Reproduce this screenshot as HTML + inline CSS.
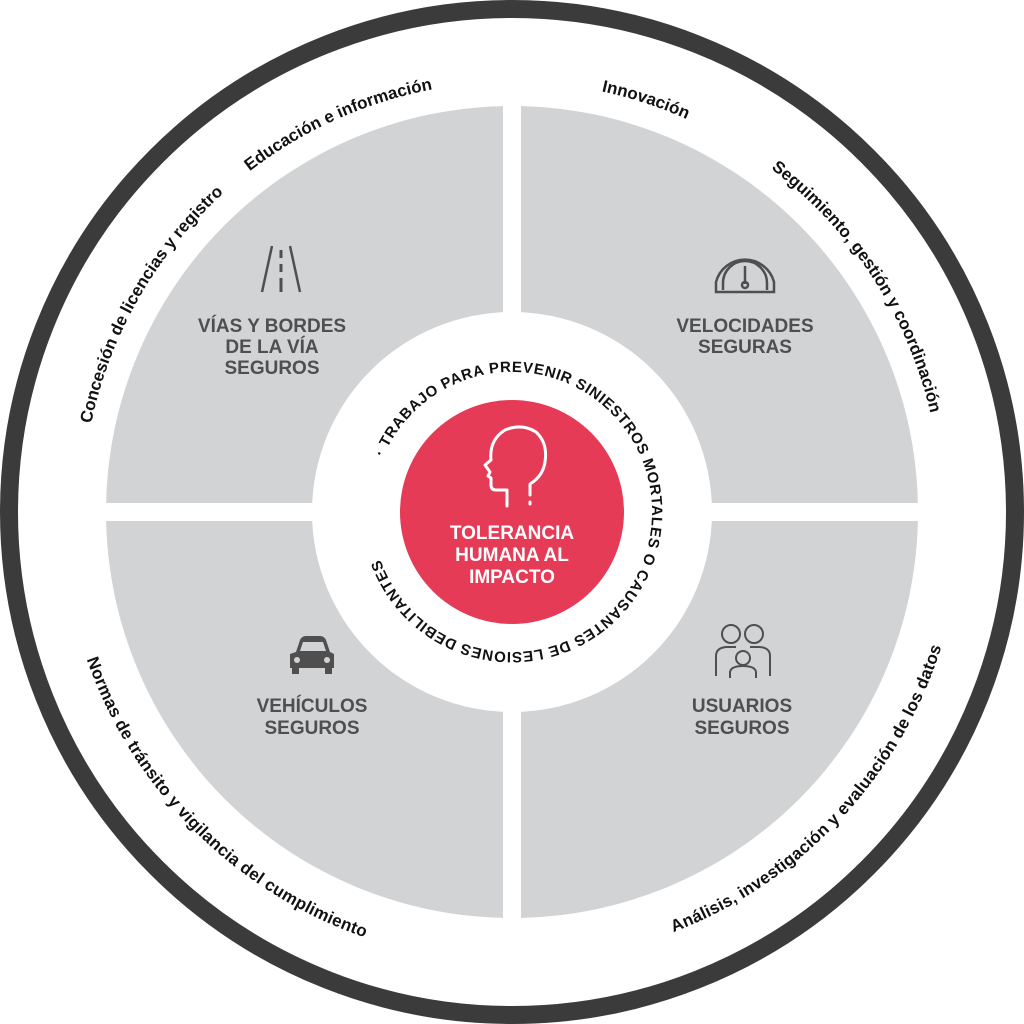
<!DOCTYPE html>
<html><head><meta charset="utf-8"><style>
html,body{margin:0;padding:0;background:#fff;}
svg{display:block;}
text{font-family:"Liberation Sans",Arial,sans-serif;font-weight:bold;}
</style></head><body>
<svg width="1024" height="1024" viewBox="0 0 1024 1024" xmlns="http://www.w3.org/2000/svg">
<defs>
<path id="topc" d="M82,512 A430,430 0 1 1 942,512 A430,430 0 1 1 82,512"/>
<path id="botc" d="M74,512 A438,438 0 1 0 950,512 A438,438 0 1 0 74,512"/>
<path id="inc" d="M383.1,457.3 A140,140 0 1 1 640.9,566.7 A140,140 0 1 1 383.1,457.3"/>
</defs>
<circle cx="512" cy="512" r="503" fill="#fff" stroke="#3b3b3b" stroke-width="18"/>
<circle cx="512" cy="512" r="406" fill="#d2d3d4"/>
<rect x="503" y="100" width="18" height="824" fill="#fff"/>
<rect x="100" y="503" width="824" height="18" fill="#fff"/>
<circle cx="512" cy="512" r="200" fill="#fff"/>
<circle cx="512" cy="512" r="112" fill="#e63b57"/>

<g font-size="17" fill="#111">
<text><textPath href="#topc" startOffset="18.3%" text-anchor="middle">Educación e información</textPath></text>
<text><textPath href="#topc" startOffset="30%" text-anchor="middle">Innovación</textPath></text>
<text><textPath href="#topc" startOffset="40.8%" text-anchor="middle">Seguimiento, gestión y coordinación</textPath></text>
<text><textPath href="#topc" startOffset="8.3%" text-anchor="middle">Concesión de licencias y registro</textPath></text>
<text dy="12"><textPath href="#botc" startOffset="12.5%" text-anchor="middle">Normas de tránsito y vigilancia del cumplimiento</textPath></text>
<text dy="12"><textPath href="#botc" startOffset="38%" text-anchor="middle">Análisis, investigación y evaluación de los datos</textPath></text>
</g>

<text font-size="15" fill="#111"><textPath href="#inc" textLength="775" lengthAdjust="spacing">· TRABAJO PARA PREVENIR SINIESTROS MORTALES O CAUSANTES DE LESIONES DEBILITANTES</textPath></text>

<g font-size="19" fill="#4f4f50" text-anchor="middle">
<text x="272" y="332">VÍAS Y BORDES</text>
<text x="272" y="353">DE LA VÍA</text>
<text x="272" y="374">SEGUROS</text>
<text x="745" y="332">VELOCIDADES</text>
<text x="745" y="353">SEGURAS</text>
<text x="312" y="712">VEHÍCULOS</text>
<text x="312" y="734">SEGUROS</text>
<text x="742" y="712">USUARIOS</text>
<text x="742" y="734">SEGUROS</text>
</g>

<g font-size="19" fill="#fff" text-anchor="middle">
<text x="512" y="539">TOLERANCIA</text>
<text x="512" y="561">HUMANA AL</text>
<text x="512" y="583">IMPACTO</text>
</g>

<g fill="none" stroke="#fff" stroke-width="3" stroke-linejoin="round" stroke-linecap="round">
<path d="M507,506 L507,490 L496,490 Q491,490 491,485 L491,478 L488,476 L490,472 L485,465 L491,460 Q489,440 505,430 Q522,423 536,432 Q548,443 545,462 Q543,476 530,484 L530,495"/>
<path d="M530,502 L530,504"/>
</g>

<g fill="none" stroke="#4f4f50" stroke-width="2.5">
<path d="M262,292 L272,246 M300,292 L290,246"/>
<path d="M281,250 L281,258 M281,264 L281,272 M281,278 L281,292" stroke-width="3"/>
</g>
<g fill="none" stroke="#4f4f50" stroke-width="2.5">
<path d="M716,292 L716,282 A30,30 0 0 1 774,282 L774,292 Z"/>
<path d="M723,290 L723,283 A22,22 0 0 1 767,283 L767,290"/>
<path d="M745,266 L745,284"/>
<circle cx="745" cy="285" r="3"/>
</g>
<g fill="#4f4f50">
<path d="M296,652 L300,640 Q302,636 306,636 L320,636 Q324,636 326,640 L330,652 L334,654 L334,668 L290,668 L290,654 Z"/>
<rect x="292" y="668" width="7" height="6"/>
<rect x="325" y="668" width="7" height="6"/>
</g>
<path d="M300,651 L303,642 L323,642 L326,651 Z" fill="#d2d3d4"/>
<circle cx="297" cy="660" r="3" fill="#d2d3d4"/>
<circle cx="327" cy="660" r="3" fill="#d2d3d4"/>
<g fill="none" stroke="#4f4f50" stroke-width="2">
<circle cx="731" cy="634" r="9"/>
<circle cx="754" cy="634" r="9"/>
<path d="M716,676 L716,656 Q716,648 726,647 L736,647"/>
<path d="M770,676 L770,656 Q770,648 760,647 L750,647"/>
<circle cx="743" cy="658" r="7"/>
<path d="M730,678 L730,672 Q731,666 743,666 Q755,666 756,672 L756,678"/>
</g>
</svg>
</body></html>
